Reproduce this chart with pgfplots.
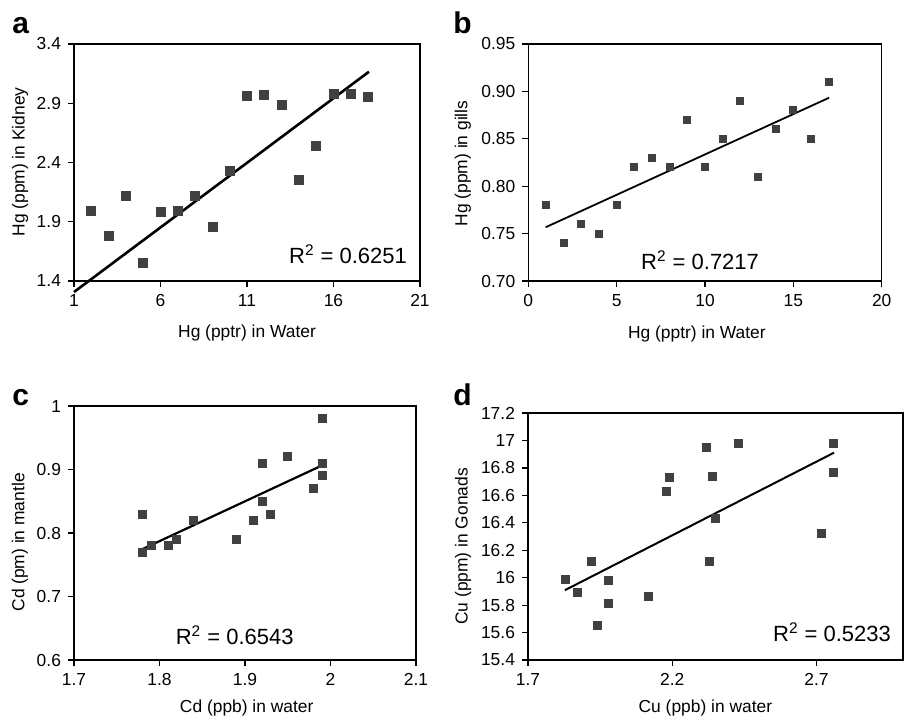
\documentclass[border=0pt]{standalone}
\usepackage{fontspec}
\setmainfont{Liberation Sans}
\usepackage{pgfplots}
\pgfplotsset{compat=1.18}
\definecolor{markgray}{RGB}{64,64,64}

\pgfplotsset{
  panel/.style={
    scale only axis,
    anchor=north west,
    axis line style={draw=black,line width=0.6pt},
    tick style={draw=black,line width=0.6pt},
    tick align=outside,
    major tick length=3pt,
    xtick pos=bottom, ytick pos=left,
    tick label style={font=\fontsize{8.7}{10}\selectfont},
    label style={font=\fontsize{8.7}{10}\selectfont},
    /pgf/number format/assume math mode=true,
    clip=false,
  },
  pts/.style={only marks,mark=square*,mark options={fill=markgray,draw=markgray}},
}
\newcommand{\rsq}[1]{R\textsuperscript{2} = #1}

\begin{document}
\begin{tikzpicture}
\useasboundingbox (0,0) rectangle (452pt,-359.5pt);

% panel letters
\node[anchor=base west,inner sep=0pt,font=\fontsize{15}{16}\selectfont\bfseries] at (6pt,-16.5pt) {a};
\node[anchor=base west,inner sep=0pt,font=\fontsize{15}{16}\selectfont\bfseries] at (226.5pt,-16.5pt) {b};
\node[anchor=base west,inner sep=0pt,font=\fontsize{15}{16}\selectfont\bfseries] at (6pt,-202.5pt) {c};
\node[anchor=base west,inner sep=0pt,font=\fontsize{15}{16}\selectfont\bfseries] at (226.5pt,-202.5pt) {d};

% a
\begin{axis}[panel, at={(37pt,-22pt)}, width=173pt, height=118.5pt,
  xmin=1, xmax=21, ymin=1.4, ymax=3.4,
  xtick={1,6,11,16,21}, ytick={1.4,1.9,2.4,2.9,3.4},
  yticklabel style={/pgf/number format/fixed,/pgf/number format/precision=1,/pgf/number format/fixed zerofill},
  xlabel={Hg (pptr) in Water}, ylabel={Hg (ppm) in Kidney},
  xlabel style={at={(axis description cs:0.5,-0.219)},anchor=center},
  ylabel style={at={(axis description cs:-0.156,0.502)},anchor=center,rotate=0}]
\addplot[pts,mark size=2.25pt] coordinates {
(2,1.99) (3,1.78) (4,2.12) (5,1.55) (6,1.98) (7,1.99) (8,2.12) (9,1.86)
(10,2.33) (11,2.96) (12,2.97) (13,2.89) (14,2.25) (15,2.54) (16,2.98) (17,2.98) (18,2.95)};
\addplot[black,line width=1.3pt] coordinates {(1,1.307) (18.05,3.166)};
\node[font=\fontsize{11}{12}\selectfont] at (axis cs:16.84,1.628) {\rsq{0.6251}};
\end{axis}

% b
\begin{axis}[panel, at={(264.15pt,-22pt)}, width=176.7pt, height=118.5pt,
  xmin=0, xmax=20, ymin=0.70, ymax=0.95,
  xtick={0,5,10,15,20}, ytick={0.70,0.75,0.80,0.85,0.90,0.95},
  yticklabel style={/pgf/number format/fixed,/pgf/number format/precision=2,/pgf/number format/fixed zerofill},
  xlabel={Hg (pptr) in Water}, ylabel={Hg (ppm) in gills},
  xlabel style={at={(axis description cs:0.477,-0.224)},anchor=center},
  ylabel style={at={(axis description cs:-0.185,0.496)},anchor=center}]
\addplot[pts,mark size=1.75pt] coordinates {
(1,0.78) (2,0.74) (3,0.76) (4,0.75) (5,0.78) (6,0.82) (7,0.83) (8,0.82) (9,0.87)
(10,0.82) (11,0.85) (12,0.89) (13,0.81) (14,0.86) (15,0.88) (16,0.85) (17,0.91)};
\addplot[black,line width=0.9pt] coordinates {(0.98,0.7567) (17.02,0.8933)};
\node[font=\fontsize{11}{12}\selectfont] at (axis cs:9.72,0.722) {\rsq{0.7217}};
\end{axis}

% c
\begin{axis}[panel, at={(37pt,-203pt)}, width=171pt, height=127pt,
  xmin=1.7, xmax=2.1, ymin=0.6, ymax=1,
  xtick={1.7,1.8,1.9,2,2.1}, ytick={0.6,0.7,0.8,0.9,1},
  xlabel={Cd (ppb) in water}, ylabel={Cd (pm) in mantle},
  xlabel style={at={(axis description cs:0.505,-0.189)},anchor=center},
  ylabel style={at={(axis description cs:-0.158,0.463)},anchor=center}]
\addplot[pts,mark size=2pt] coordinates {
(1.78,0.83) (1.78,0.77) (1.79,0.78) (1.81,0.78) (1.82,0.79) (1.84,0.82) (1.89,0.79) (1.91,0.82)
(1.92,0.91) (1.92,0.85) (1.93,0.83) (1.95,0.92) (1.98,0.87) (1.99,0.98) (1.99,0.91) (1.99,0.89)};
\addplot[black,line width=1.1pt] coordinates {(1.779,0.774) (1.991,0.907)};
\node[font=\fontsize{11}{12}\selectfont] at (axis cs:1.888,0.639) {\rsq{0.6543}};
\end{axis}

% d
\begin{axis}[panel, at={(264pt,-206.5pt)}, width=187.5pt, height=123.5pt,
  xmin=1.7, xmax=3.0, ymin=15.4, ymax=17.2,
  xtick={1.7,2.2,2.7}, ytick={15.4,15.6,15.8,16,16.2,16.4,16.6,16.8,17,17.2},
  xlabel={Cu (ppb) in water}, ylabel={Cu (ppm) in Gonads},
  xlabel style={at={(axis description cs:0.473,-0.194)},anchor=center},
  ylabel style={at={(axis description cs:-0.173,0.46)},anchor=center}]
\addplot[pts,mark size=2pt] coordinates {
(1.83,15.99) (1.87,15.89) (1.92,16.12) (1.94,15.65) (1.98,15.98) (1.98,15.81) (2.118,15.86)
(2.179,16.63) (2.189,16.73) (2.318,16.95) (2.329,16.12) (2.339,16.74) (2.349,16.43)
(2.429,16.98) (2.718,16.32) (2.759,16.98) (2.759,16.77)};
\addplot[black,line width=1pt] coordinates {(1.828,15.909) (2.761,16.911)};
\node[font=\fontsize{11}{12}\selectfont] at (axis cs:2.754,15.604) {\rsq{0.5233}};
\end{axis}
\end{tikzpicture}
\end{document}
